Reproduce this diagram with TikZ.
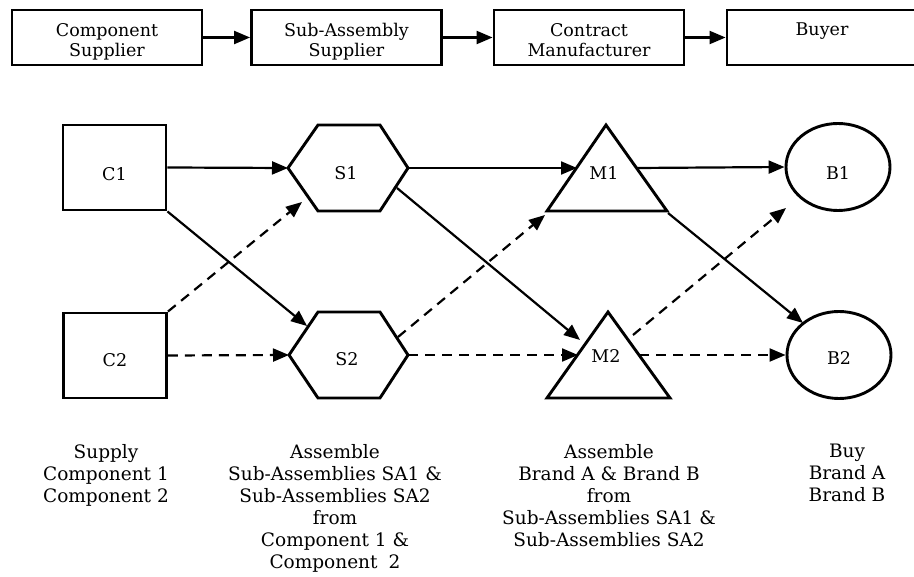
\documentclass[tikz,border=0pt]{standalone}
\usepackage{fontspec}
\setmainfont{DejaVu Serif}
\usetikzlibrary{arrows.meta,shapes.geometric}
\begin{document}
\begin{tikzpicture}[x=1pt,y=-1pt,
  font=\fontsize{17.5}{22.6}\selectfont,
  shp/.style={draw, line width=2.9pt, line join=miter},
  topbox/.style={shp, minimum width=190pt, minimum height=55pt, inner sep=0pt},
  cbox/.style={shp, minimum width=103pt, minimum height=85pt, inner sep=0pt},
  bell/.style={shp, ellipse, minimum width=104pt, minimum height=87pt, inner sep=0pt},
  lab/.style={inner sep=0pt, anchor=base},
  txt/.style={inner sep=0pt, anchor=north, align=center, font=\fontsize{18.5}{22}\selectfont},
  toptxt/.style={inner sep=0pt, anchor=north, align=center, font=\fontsize{17.5}{20}\selectfont},
  conn/.style={line width=2.2pt, -{Triangle[length=16pt,width=13pt]}},
  dconn/.style={conn, dash pattern=on 10pt off 7pt},
]
\useasboundingbox (0,0) rectangle (914,577);

% top row
\node[topbox] (tb1) at (107,37.5) {};
\node[topbox] (tb2) at (346.5,37.5) {};
\node[topbox] (tb3) at (589,37.5) {};
\node[topbox] (tb4) at (822,37.5) {};
\node[toptxt] (tt1) at (107,23) {Component\\Supplier};
\node[toptxt] (tt2) at (346.5,23) {Sub-Assembly\\Supplier};
\node[toptxt] (tt3) at (589,23) {Contract\\Manufacturer};
\node[toptxt] (tt4) at (822,23) {Buyer};
\draw[conn] (tb1) -- (tb2);
\draw[conn] (tb2) -- (tb3);
\draw[conn] (tb3) -- (tb4);

% component suppliers
\node[cbox] (C1) at (114.5,167.5) {};
\node[cbox] (C2) at (115,355.5) {};
\node[lab] (C1l) at (114.5,181) {C1};
\node[lab] (C2l) at (115,367) {C2};

% sub-assembly suppliers (hexagons)
\coordinate (S1w) at (288,168);
\coordinate (S1e) at (408,168);
\coordinate (S2w) at (289,355);
\coordinate (S2e) at (408,355);
\draw[shp] (S1w) -- (318,125) -- (380,125) -- (S1e) -- (380,211) -- (318,211) -- cycle;
\draw[shp] (S2w) -- (318,312) -- (380,312) -- (S2e) -- (380,398) -- (318,398) -- cycle;
\node[lab] (S1l) at (346,180) {S1};
\node[lab] (S2l) at (347,366) {S2};

% contract manufacturers (triangles)
\coordinate (M1a) at (606,125);
\coordinate (M1l) at (547,211);
\coordinate (M1r) at (667,211);
\coordinate (M2a) at (608,312);
\coordinate (M2l) at (547,398);
\coordinate (M2r) at (670,398);
\draw[shp] (M1a) -- (M1r) -- (M1l) -- cycle;
\draw[shp] (M2a) -- (M2r) -- (M2l) -- cycle;
\node[lab] (M1lab) at (604,180) {M1};
\node[lab] (M2lab) at (606,363) {M2};

% buyers
\node[bell] (B1) at (838,167) {};
\node[bell] (B2) at (839,355) {};
\node[lab] (B1l) at (838,180) {B1};
\node[lab] (B2l) at (839,365) {B2};

% connector end points
\coordinate (S1in) at (302,202);
\coordinate (S1out) at (397,188);
\coordinate (S2in) at (307,326);
\coordinate (S2out) at (398,337);
\coordinate (M1in) at (577,168);
\coordinate (M1out) at (637,168);
\coordinate (M1bl) at (545,215);
\coordinate (M1br) at (668,213);
\coordinate (M2in) at (580,340);
\coordinate (M2w) at (578,355);
\coordinate (M2e) at (639,355);
\coordinate (M2out) at (633,335);
\coordinate (B1in) at (786,208);
\coordinate (B2in) at (803,323);

\draw[conn] (C1.east) -- (S1w);
\draw[conn] (C1.south east) -- (S2in);
\draw[dconn] (C2.north east) -- (S1in);
\draw[dconn] (C2.east) -- (S2w);
\draw[conn] (S1e) -- (M1in);
\draw[conn] (S1out) -- (M2in);
\draw[dconn] (S2out) -- (M1bl);
\draw[dconn] (S2e) -- (M2w);
\draw[conn] (M1out) -- (B1.west);
\draw[conn] (M1br) -- (B2in);
\draw[dconn] (M2out) -- (B1in);
\draw[dconn] (M2e) -- (B2.west);

% bottom descriptions
\node[txt] (d1) at (106,444) {Supply\\Component 1\\Component 2};
\node[txt] (d2) at (335,444) {Assemble\\Sub-Assemblies SA1 \&\\Sub-Assemblies SA2\\from\\Component 1 \&\\Component\hspace{0.6em}2};
\node[txt] (d3) at (609,444) {Assemble\\Brand A \& Brand B\\from\\Sub-Assemblies SA1 \&\\Sub-Assemblies SA2};
\node[txt] (d4) at (847,444) {Buy\\Brand A\\Brand B};
\end{tikzpicture}
\end{document}
